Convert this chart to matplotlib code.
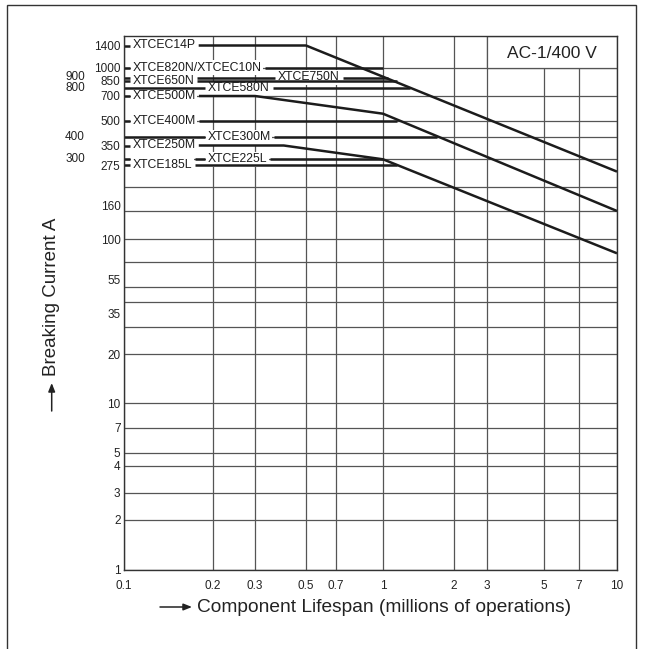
import numpy as np
import matplotlib
matplotlib.use('Agg')
import matplotlib.pyplot as plt
from matplotlib.patches import Rectangle

plt.rcParams['font.family'] = ['Liberation Sans', 'DejaVu Sans']

# ---- values ----
x_ticks = [0.1, 0.2, 0.3, 0.5, 0.7, 1, 2, 3, 5, 7, 10]
x_tick_labels = ['0.1', '0.2', '0.3', '0.5', '0.7', '1', '2', '3', '5', '7', '10']

y_grid = [1, 2, 3, 4, 5, 7, 10, 20, 30, 40, 50, 70, 100, 150, 200, 300, 400, 500, 700, 1000]
y_right_labels = [1400, 1000, 850, 700, 500, 350, 275, 160, 100, 55, 35, 20, 10, 7, 5, 4, 3, 2, 1]
y_left_labels = [900, 800, 400, 300]

# contactors with a derating curve (lifespan in millions of operations, current in A)
curve_names = ['XTCEC14P', 'XTCE500M', 'XTCE250M']
curve_life = [[0.1, 0.5, 10], [0.1, 0.3, 1, 10], [0.1, 0.4, 1, 10]]
curve_amps = [[1400, 1400, 250], [700, 700, 550, 150], [350, 350, 300, 80]]

# contactors drawn as a flat rating up to the curve they meet
flat_names = ['XTCE820N/XTCEC10N', 'XTCE750N', 'XTCE650N', 'XTCE580N',
              'XTCE400M', 'XTCE300M', 'XTCE225L', 'XTCE185L']
flat_amps = [1000, 900, 850, 800, 500, 400, 300, 275]
flat_stop = [1.0, 1.05, 1.15, 1.3, 1.15, 1.7, 1.0, 1.15]

# ---- layout ----
# where the labels start along the lifespan axis (default 0.107)
label_start = {'XTCE750N': 0.378, 'XTCE580N': 0.192, 'XTCE300M': 0.192, 'XTCE225L': 0.192}

# the printed grid is only roughly logarithmic: pixel rows/columns of the grid values
x_knot_px = [124, 213, 255, 306, 336, 383, 454, 487, 544, 579, 617]
y_knot_vals = [1, 2, 3, 4, 5, 7, 10, 20, 30, 40, 50, 70, 100, 150, 200, 300, 350,
               400, 500, 700, 800, 850, 900, 1000, 1400, 1620]
y_knot_px = [570, 520, 492.7, 466, 452.7, 428, 403.3, 354.3, 327, 301.7, 286.7, 261.7,
             239.3, 211, 186.7, 159.3, 145.5, 137.3, 120.7, 96, 88, 80.5, 77.5, 67.7, 45.5, 36]

W, H = 645, 649
ax_left, ax_right, ax_top, ax_bottom = 124, 617, 36, 570
x_pos = (np.array(x_knot_px, float) - ax_left) / (ax_right - ax_left)
y_pos = (ax_bottom - np.array(y_knot_px, float)) / (ax_bottom - ax_top)


def paper_scale(vals, pos):
    lv = np.log10(np.asarray(vals, float))

    def fwd(v):
        v = np.asarray(v, float)
        with np.errstate(divide='ignore', invalid='ignore'):
            return np.interp(np.log10(np.where(v > 0, v, vals[0])), lv, pos)

    def inv(p):
        return 10 ** np.interp(p, pos, lv)
    return fwd, inv


ink = '#1c1c1c'
grid_c = '#555555'
text_c = '#222222'

fig = plt.figure(figsize=(W / 100, H / 100), dpi=100)
ax = fig.add_axes([ax_left / W, 1 - ax_bottom / H, (ax_right - ax_left) / W, (ax_bottom - ax_top) / H])
ax.set_xscale('function', functions=paper_scale(x_ticks, x_pos))
ax.set_yscale('function', functions=paper_scale(y_knot_vals, y_pos))
ax.set_xlim(0.1, 10)
ax.set_ylim(1, 1620)

ax.set_xticks(x_ticks, x_tick_labels)
ax.set_xticks([], minor=True)
ax.set_yticks(y_right_labels, [str(v) for v in y_right_labels])
ax.set_yticks(y_grid, minor=True)
ax.yaxis.remove_overlapping_locs = False
ax.tick_params(which='both', length=0, labelsize=8.5, labelcolor=text_c)
ax.tick_params(axis='x', pad=7)
ax.tick_params(axis='y', pad=2.5)
ax.grid(axis='x', which='major', color=grid_c, lw=0.9)
ax.grid(axis='y', which='minor', color=grid_c, lw=0.9)
ax.grid(axis='y', which='major', visible=False)
ax.set_axisbelow(True)
for s in ax.spines.values():
    s.set_color('#333333')
    s.set_linewidth(1.0)

for v in y_left_labels:
    ax.text(-0.079, v, str(v), transform=ax.get_yaxis_transform(), ha='right', va='center',
            fontsize=8.5, color=text_c)

# AC-1 box in the top right corner
ax.add_patch(Rectangle((3, 1000), 7, 620, fc='white', ec=grid_c, lw=0.9, zorder=1))
ax.text((551.7 - ax_left) / (ax_right - ax_left), (ax_bottom - 54) / (ax_bottom - ax_top),
        'AC-1/400 V', transform=ax.transAxes, ha='center', va='center', fontsize=12.5, color=text_c)

# contactor names, white boxes mask the grid underneath
texts = []
for name, amps in zip(curve_names + flat_names, [c[0] for c in curve_amps] + flat_amps):
    t = ax.text(label_start.get(name, 0.107), amps, name, ha='left', va='center', fontsize=8.8,
                color=ink, zorder=1.5,
                bbox=dict(boxstyle='square,pad=0.12', fc='white', ec='none'))
    texts.append(t)
renderer = fig.canvas.get_renderer()
boxes = [t.get_window_extent(renderer) for t in texts]

line_kw = dict(color=ink, lw=1.8, solid_capstyle='butt', zorder=2)


def gaps_for(amps, x_first, x_flat_end):
    # break a flat line wherever a name sits on it
    ly = ax.transData.transform((1, amps))[1]
    xa = ax.transData.transform((x_first, amps))[0]
    xb = ax.transData.transform((x_flat_end, amps))[0]
    gaps = []
    for bb in boxes:
        if bb.y0 + 0.22 * bb.height + 1 < ly < bb.y1 + 0.5 and bb.x0 < xb and bb.x1 > xa:
            pts = ax.transData.inverted().transform([(bb.x0 - 3, ly), (bb.x1 + 3, ly)])
            gaps.append((pts[0, 0], pts[1, 0]))
    return sorted(gaps)


def draw_line(life, amps):
    start = life[0]
    for a, b in gaps_for(amps[0], life[0], life[1]):
        ax.plot([start, a], [amps[0], amps[0]], **line_kw)
        start = b
    ax.plot([start] + list(life[1:]), amps, **line_kw)


for life, amps in zip(curve_life, curve_amps):
    draw_line(life, amps)
for amps, stop in zip(flat_amps, flat_stop):
    draw_line([0.1, stop], [amps, amps])

# axis titles with arrows
fig.text(197 / W, 1 - 607 / H, 'Component Lifespan (millions of operations)', fontsize=13.8,
         ha='left', va='center', color=text_c)
fig.text(51.7 / W, 1 - 296.5 / H, 'Breaking Current A', rotation=90, fontsize=13.5,
         ha='center', va='center', color=text_c)
arrow_kw = dict(arrowstyle='-|>,head_length=0.5,head_width=0.2', color=text_c, lw=1.1,
                shrinkA=0, shrinkB=0)
ax.annotate('', xy=(192 / W, 1 - 607 / H), xytext=(160 / W, 1 - 607 / H),
            xycoords='figure fraction', arrowprops=arrow_kw, annotation_clip=False)
ax.annotate('', xy=(51.7 / W, 1 - 383 / H), xytext=(51.7 / W, 1 - 411 / H),
            xycoords='figure fraction', arrowprops=arrow_kw, annotation_clip=False)

# frame round the figure
fig.add_artist(Rectangle((7 / W, -0.02), 629 / W, 1.02 - 5 / H, transform=fig.transFigure,
                         fill=False, ec='#333333', lw=1.0))

fig.savefig('out.png', dpi=100)
